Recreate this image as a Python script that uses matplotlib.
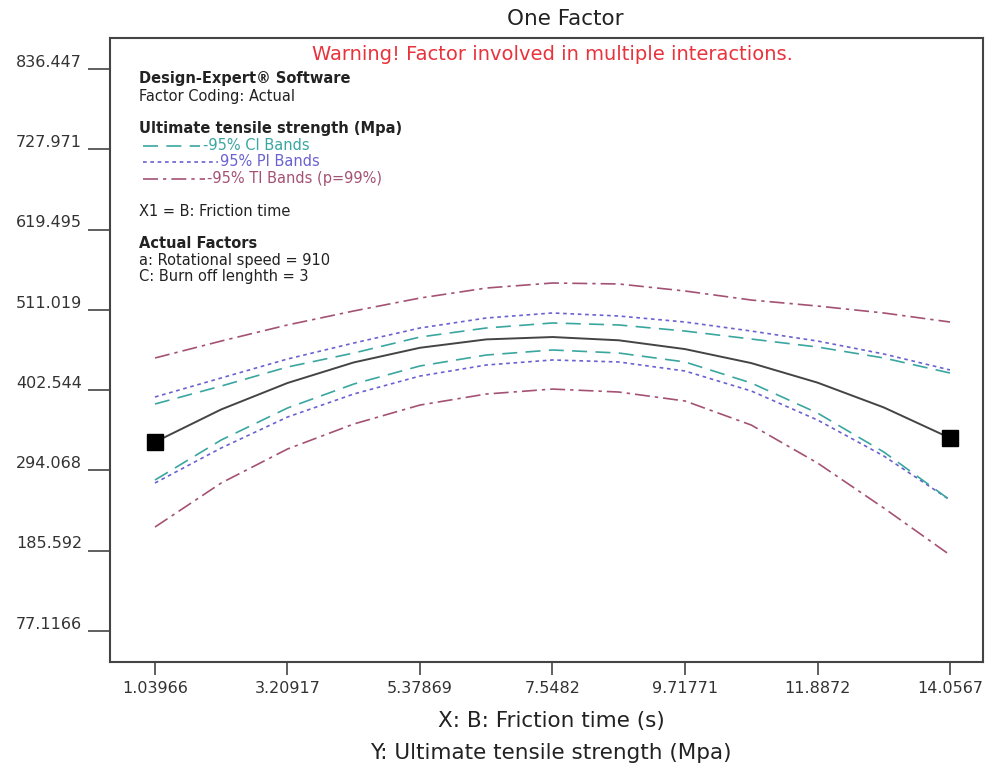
import matplotlib
matplotlib.use("Agg")
import matplotlib.pyplot as plt
from matplotlib.transforms import ScaledTranslation

# ---- data ----
x_vals = [1.03966, 2.12441, 3.20917, 4.29393, 5.37869, 6.46344, 7.5482,
          8.63296, 9.71771, 10.80247, 11.8872, 12.97196, 14.0567]
mean_vals = [332.5, 376.5, 412.2, 440.0, 459.8, 471.1, 474.3, 469.9, 458.0, 439.1, 412.7, 379.2, 337.9]
ci_upper = [383.8, 408.1, 433.8, 452.7, 474.3, 486.5, 493.3, 490.6, 482.4, 471.6, 460.8, 446.0, 425.7]
ci_lower = [281.1, 335.2, 378.4, 410.8, 435.2, 450.0, 456.8, 452.7, 440.6, 412.2, 371.6, 319.0, 254.1]
pi_upper = [393.3, 419.0, 444.6, 466.2, 486.5, 500.0, 506.8, 502.7, 494.6, 482.4, 468.9, 451.4, 429.8]
pi_lower = [277.1, 324.4, 366.2, 397.3, 421.6, 436.5, 443.3, 440.6, 428.4, 401.4, 362.2, 313.6, 254.1]
ti_upper = [446.0, 468.9, 490.6, 509.5, 527.0, 540.5, 547.3, 546.0, 536.5, 524.3, 516.2, 506.8, 494.6]
ti_lower = [217.6, 277.1, 323.0, 356.8, 382.4, 397.3, 404.0, 400.0, 387.9, 355.4, 304.1, 243.3, 179.8]
design_x = [1.03966, 14.0567]
design_y = [332.5, 337.9]

x_ticks = [1.03966, 3.20917, 5.37869, 7.5482, 9.71771, 11.8872, 14.0567]
x_tick_labels = ["1.03966", "3.20917", "5.37869", "7.5482", "9.71771", "11.8872", "14.0567"]
y_ticks = [77.1166, 185.592, 294.068, 402.544, 511.019, 619.495, 727.971, 836.447]
y_tick_labels = ["77.1166", "185.592", "294.068", "402.544", "511.019", "619.495", "727.971", "836.447"]

plt.rcParams['font.family'] = ['DejaVu Sans']

W, H = 985, 769
fig = plt.figure(figsize=(W / 100, H / 100), dpi=100)
ax = fig.add_axes([110 / W, 1 - 662 / H, (983 - 110) / W, (662 - 38) / H])

CI_C = "#3aa6a0"
PI_C = "#6a62d0"
TI_C = "#a45274"

ax.plot(x_vals, ti_upper, color=TI_C, lw=1.2, dashes=(9, 3, 2, 3))
ax.plot(x_vals, ti_lower, color=TI_C, lw=1.2, dashes=(9, 3, 2, 3))
ax.plot(x_vals, pi_upper, color=PI_C, lw=1.2, dashes=(2.2, 2.2))
ax.plot(x_vals, pi_lower, color=PI_C, lw=1.2, dashes=(2.2, 2.2))
ax.plot(x_vals, ci_upper, color=CI_C, lw=1.2, dashes=(9, 5))
ax.plot(x_vals, ci_lower, color=CI_C, lw=1.2, dashes=(9, 5))
ax.plot(x_vals, mean_vals, color="#444444", lw=1.4)
ax.plot(design_x, design_y, ls="none", marker="s", ms=11, color="black")

ax.set_xlim(0.303, 14.597)
ax.set_ylim(35.23, 878.33)

ax.set_xticks(x_ticks)
ax.set_xticklabels(x_tick_labels)
ax.set_yticks(y_ticks)
ax.set_yticklabels(y_tick_labels)
ax.tick_params(axis='x', direction='out', length=9.5, width=1.2, color="#444444",
               labelsize=11.5, labelcolor="#333333", pad=4)
ax.tick_params(axis='y', direction='out', length=16, width=1.2, color="#444444",
               labelsize=11.5, labelcolor="#333333", pad=4)
off = ScaledTranslation(0, 6 / 72, fig.dpi_scale_trans)
for lab in ax.get_yticklabels():
    lab.set_transform(lab.get_transform() + off)

for sp in ax.spines.values():
    sp.set_color("#444444")
    sp.set_linewidth(1.5)

fig.text(565 / W, 1 - 19 / H, "One Factor", ha="center", va="center", fontsize=15.5, color="#222222")
fig.text(552 / W, 1 - 55 / H, "Warning! Factor involved in multiple interactions.",
         ha="center", va="center", fontsize=14, color="#e8333d")
fig.text(551 / W, 1 - 721 / H, "X: B: Friction time (s)", ha="center", va="center",
         fontsize=15.5, color="#222222")
fig.text(551 / W, 1 - 753 / H, "Y: Ultimate tensile strength (Mpa)", ha="center", va="center",
         fontsize=15.5, color="#222222")

tx = 139 / W
small = 10.5
def ftext(y, s, **kw):
    fig.text(kw.pop("x", tx), 1 - y / H, s, ha="left", va="center", fontsize=small,
             color=kw.pop("color", "#222222"), **kw)

ftext(79, "Design-Expert® Software", fontweight="bold")
ftext(97, "Factor Coding: Actual")
ftext(129, "Ultimate tensile strength (Mpa)", fontweight="bold")
ftext(146, "-95% CI Bands", x=203 / W, color=CI_C)
ftext(162, "95% PI Bands", x=220 / W, color=PI_C)
ftext(179, "-95% TI Bands (p=99%)", x=207 / W, color=TI_C)
ftext(211, "X1 = B: Friction time")
ftext(243, "Actual Factors", fontweight="bold")
ftext(260, "a: Rotational speed = 910")
ftext(277, "C: Burn off lenghth = 3")

fig.add_artist(plt.Line2D([143 / W, 200 / W], [1 - 146 / H] * 2, color=CI_C, lw=1.2, dashes=(9, 5)))
fig.add_artist(plt.Line2D([143 / W, 218 / W], [1 - 162 / H] * 2, color=PI_C, lw=1.2, dashes=(2.2, 2.2)))
fig.add_artist(plt.Line2D([143 / W, 205 / W], [1 - 179 / H] * 2, color=TI_C, lw=1.2, dashes=(9, 3, 2, 3)))

fig.savefig("out.png", dpi=100)
